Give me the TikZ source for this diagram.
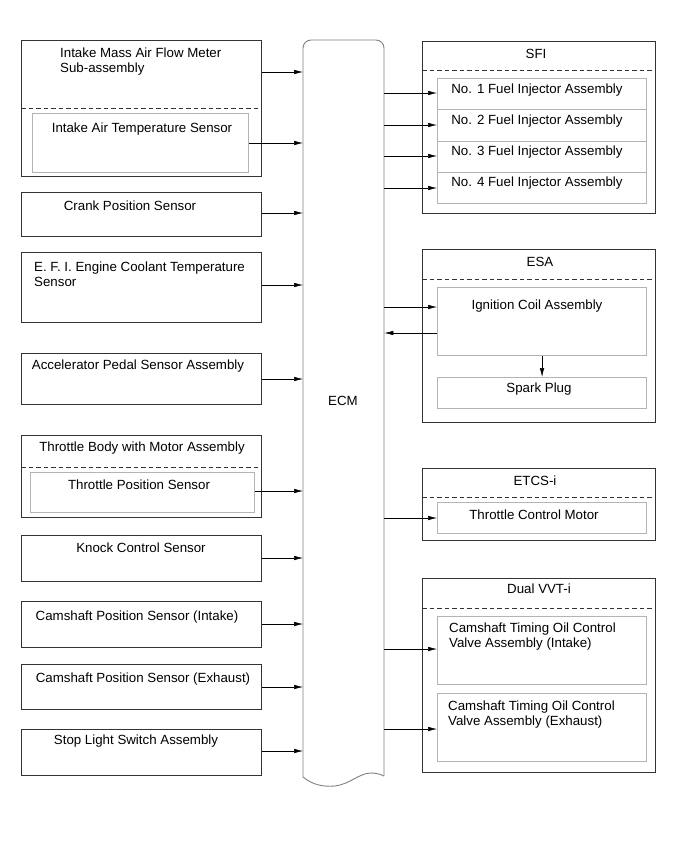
\documentclass[tikz,border=0pt]{standalone}
\usepackage{fontspec}
\setmainfont{Liberation Sans}
\usetikzlibrary{arrows.meta}
\definecolor{innergray}{HTML}{B4B4B4}
\definecolor{ecmgray}{HTML}{808080}
\definecolor{outerdark}{HTML}{333333}
\tikzset{
  obox/.style={draw=outerdark, line width=0.8pt, anchor=north west, inner sep=0pt},
  ibox/.style={draw=innergray, line width=1.1pt, anchor=north west, inner sep=0pt},
  sepline/.style={draw=outerdark, line width=0.8pt, dash pattern=on 4.5pt off 3pt},
  sig/.style={draw=black, line width=0.55pt, -{Latex[length=9pt,width=4.5pt]}},
  lbl/.style={font=\fontsize{13.3}{15}\selectfont, inner sep=0pt, anchor=base},
  lbll/.style={font=\fontsize{13.3}{15}\selectfont, inner sep=0pt, anchor=north west, align=left},
}
\begin{document}
\begin{tikzpicture}[x=1pt,y=-1pt]
\fill[white] (0,0) rectangle (690,854);
\useasboundingbox (0,0) rectangle (690,854);

% ---------- ECM ----------
\node[minimum width=81pt, minimum height=737pt, anchor=north west, inner sep=0pt] (ecm) at (303,40) {};
\draw[ecmgray, line width=0.9pt, rounded corners=8pt] (303,777) -- (303,40) -- (384,40) -- (384,776);
\draw[ecmgray, line width=0.9pt] (303,777) .. controls (313,785) and (323,787) .. (335,786)
  .. controls (350,784) and (358,774) .. (370,773) .. controls (376,773) and (380,774) .. (384,776);
\node[lbl] (ecmt) at (343,405) {ECM};

% ---------- left column ----------
\node[obox, minimum width=240pt, minimum height=136pt] (maf) at (21,40) {};
\draw[sepline] (maf.west |- 0,108) -- (maf.east |- 0,108);
\node[ibox, minimum width=216pt, minimum height=59pt] (iat) at (32,113) {};
\node[lbll] (maft) at (60,48) {Intake Mass Air Flow Meter\\Sub-assembly};
\node[lbl] (iatt) at (142,132) {Intake Air Temperature Sensor};

\node[obox, minimum width=240pt, minimum height=44pt] (crank) at (21,192) {};
\node[lbl] (crankt) at (130,210) {Crank Position Sensor};

\node[obox, minimum width=240pt, minimum height=70pt] (efi) at (21,252) {};
\node[lbll] (efit) at (34,262) {E. F. I. Engine Coolant Temperature\\Sensor};

\node[obox, minimum width=240pt, minimum height=51pt] (acc) at (21,353) {};
\node[lbl] (acct) at (138,369) {Accelerator Pedal Sensor Assembly};

\node[obox, minimum width=240pt, minimum height=82pt] (tb) at (21,435) {};
\draw[sepline] (tb.west |- 0,467) -- (tb.east |- 0,467);
\node[ibox, minimum width=224pt, minimum height=40pt] (tps) at (30,472) {};
\node[lbl] (tbt) at (142,451) {Throttle Body with Motor Assembly};
\node[lbl] (tpst) at (139,489) {Throttle Position Sensor};

\node[obox, minimum width=240pt, minimum height=46pt] (knock) at (21,535) {};
\node[lbl] (knockt) at (141,552) {Knock Control Sensor};

\node[obox, minimum width=240pt, minimum height=46pt] (camin) at (21,601) {};
\node[lbl] (camint) at (137,620) {Camshaft Position Sensor (Intake)};

\node[obox, minimum width=240pt, minimum height=45pt] (camex) at (21,664) {};
\node[lbl] (camext) at (143,682) {Camshaft Position Sensor (Exhaust)};

\node[obox, minimum width=240pt, minimum height=46pt] (stop) at (21,729) {};
\node[lbl] (stopt) at (136,744) {Stop Light Switch Assembly};

% input arrows
\draw[sig] (maf.east |- 0,72) -- (ecm.west |- 0,72);
\draw[sig] (iat.east |- 0,143) -- (ecm.west |- 0,143);
\draw[sig] (crank.east |- 0,213) -- (ecm.west |- 0,213);
\draw[sig] (efi.east |- 0,285) -- (ecm.west |- 0,285);
\draw[sig] (acc.east |- 0,379) -- (ecm.west |- 0,379);
\draw[sig] (tps.east |- 0,491) -- (ecm.west |- 0,491);
\draw[sig] (knock.east |- 0,558) -- (ecm.west |- 0,558);
\draw[sig] (camin.east |- 0,624) -- (ecm.west |- 0,624);
\draw[sig] (camex.east |- 0,687) -- (ecm.west |- 0,687);
\draw[sig] (stop.east |- 0,751) -- (ecm.west |- 0,751);

% ---------- right column ----------
% SFI
\node[obox, minimum width=233pt, minimum height=172pt] (sfi) at (422,41) {};
\draw[sepline] (sfi.west |- 0,70) -- (sfi.east |- 0,70);
\node[lbl] (sfit) at (536,58) {SFI};
\node[ibox, minimum width=209pt, minimum height=31pt] (inj1) at (437,78) {};
\node[ibox, minimum width=209pt, minimum height=32pt] (inj2) at (437,109) {};
\node[ibox, minimum width=209pt, minimum height=31pt] (inj3) at (437,141) {};
\node[ibox, minimum width=209pt, minimum height=31pt] (inj4) at (437,172) {};
\node[lbl] (inj1t) at (537,93) {No. 1 Fuel Injector Assembly};
\node[lbl] (inj2t) at (537,124) {No. 2 Fuel Injector Assembly};
\node[lbl] (inj3t) at (537,155) {No. 3 Fuel Injector Assembly};
\node[lbl] (inj4t) at (537,186) {No. 4 Fuel Injector Assembly};
\draw[sig] (ecm.east |- 0,93) -- (inj1.west |- 0,93);
\draw[sig] (ecm.east |- 0,125) -- (inj2.west |- 0,125);
\draw[sig] (ecm.east |- 0,156) -- (inj3.west |- 0,156);
\draw[sig] (ecm.east |- 0,188) -- (inj4.west |- 0,188);

% ESA
\node[obox, minimum width=233pt, minimum height=173pt] (esa) at (422,249) {};
\draw[sepline] (esa.west |- 0,279) -- (esa.east |- 0,279);
\node[lbl] (esat) at (540,266) {ESA};
\node[ibox, minimum width=209pt, minimum height=68pt] (coil) at (437,287) {};
\node[ibox, minimum width=209pt, minimum height=31pt] (spark) at (437,377) {};
\node[lbl] (coilt) at (537,309) {Ignition Coil Assembly};
\node[lbl] (sparkt) at (539,392) {Spark Plug};
\draw[sig] (ecm.east |- 0,307) -- (coil.west |- 0,307);
\draw[sig] (coil.west |- 0,333) -- (ecm.east |- 0,333);
\draw[sig] (coil.south) -- (spark.north);

% ETCS-i
\node[obox, minimum width=233pt, minimum height=72pt] (etcs) at (422,468) {};
\draw[sepline] (etcs.west |- 0,497) -- (etcs.east |- 0,497);
\node[lbl] (etcst) at (535,485) {ETCS-i};
\node[ibox, minimum width=209pt, minimum height=31pt] (tcm) at (437,502) {};
\node[lbl] (tcmt) at (534,519) {Throttle Control Motor};
\draw[sig] (ecm.east |- 0,518) -- (tcm.west |- 0,518);

% Dual VVT-i
\node[obox, minimum width=233pt, minimum height=194pt] (vvt) at (422,578) {};
\draw[sepline] (vvt.west |- 0,608) -- (vvt.east |- 0,608);
\node[lbl] (vvtt) at (539,593) {Dual VVT-i};
\node[ibox, minimum width=209pt, minimum height=68pt] (ocv1) at (437,616) {};
\node[ibox, minimum width=209pt, minimum height=68pt] (ocv2) at (437,693) {};
\node[lbll] (ocv1t) at (449,623) {Camshaft Timing Oil Control\\Valve Assembly (Intake)};
\node[lbll] (ocv2t) at (448,701) {Camshaft Timing Oil Control\\Valve Assembly (Exhaust)};
\draw[sig] (ecm.east |- 0,649) -- (ocv1.west |- 0,649);
\draw[sig] (ecm.east |- 0,729) -- (ocv2.west |- 0,729);
\end{tikzpicture}
\end{document}
